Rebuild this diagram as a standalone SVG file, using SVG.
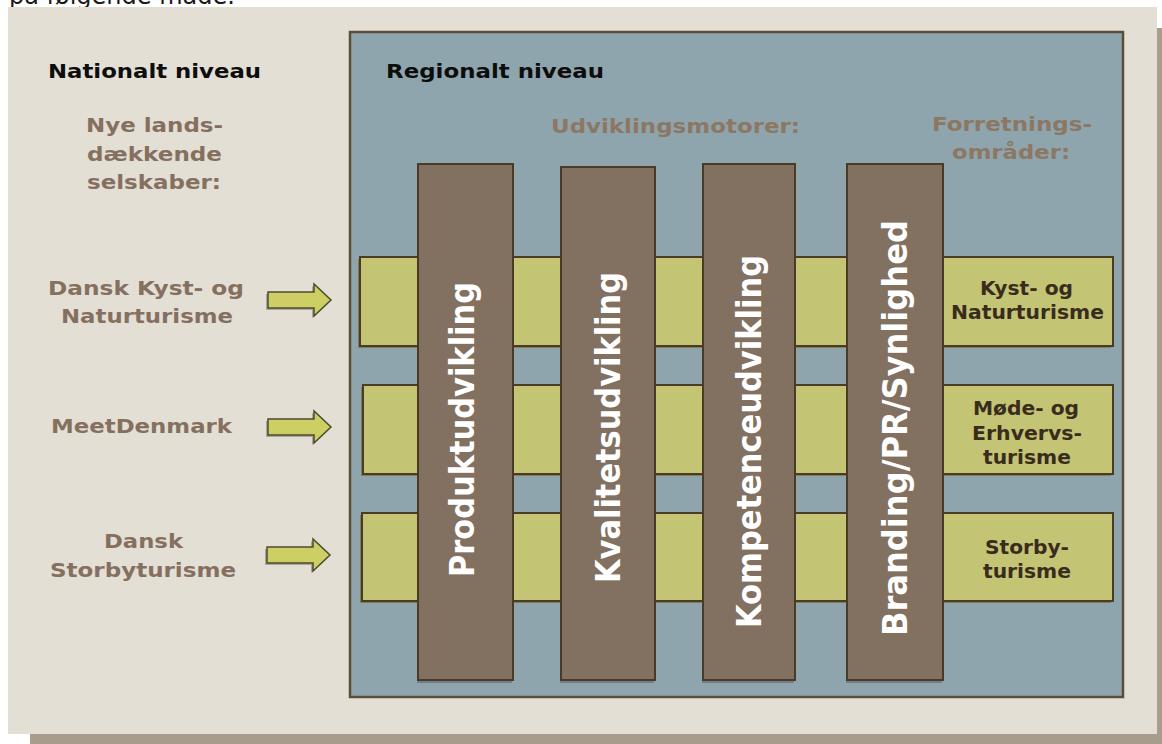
<svg xmlns="http://www.w3.org/2000/svg" xmlns:xlink="http://www.w3.org/1999/xlink" width="1162" height="744" viewBox="0 0 1162 744">
  <defs>
    <style>
      .t { font-family: "DejaVu Sans", Verdana, sans-serif; font-weight: bold; }
      .head { font-size: 20px; fill: #0d0d0d; }
      .nat { font-size: 20px; fill: #857060; }
      .motor { font-size: 20px; fill: #8c7763; }
      .area { font-size: 19px; fill: #3a2c1c; }
      .vert { font-size: 30px; fill: #ffffff; }
      .bar { fill: #827060; stroke: #4a3a26; stroke-width: 2; }
      .barsh { fill: #6f7f85; }
      .band { fill: #c3c474; stroke: #4a3a26; stroke-width: 2; }
      .bandsh { fill: #7e8050; }
      .arrow { fill: #cdce64; stroke: #4b4b30; stroke-width: 1.5; }
      .arrowsh { fill: #a9a597; }
    </style>
    <path id="arrowShape" d="M0,-8 H46 V-16 L63,0 L46,16 V8 H0 Z"/>
  </defs>

  <rect x="0" y="0" width="1162" height="744" fill="#ffffff"/>
  <text x="9" y="4" style="font-family: 'DejaVu Sans', Verdana, sans-serif; font-size: 24px; fill: #1a1a1a;">på følgende måde.</text>

  <g id="frame">
    <rect x="30" y="28" width="1132" height="716" fill="#a89c8c"/>
    <rect x="8" y="7" width="1149" height="727" fill="#e3dfd5"/>
    <rect x="350" y="32" width="773" height="665" fill="#8fa5ae" stroke="#5d4d38" stroke-width="2.5"/>
  </g>

  <g id="headings">
    <text class="t head" x="48" y="78" textLength="213" lengthAdjust="spacingAndGlyphs">Nationalt niveau</text>
    <text class="t head" x="386" y="78" textLength="218" lengthAdjust="spacingAndGlyphs">Regionalt niveau</text>
    <text class="t nat" x="86" y="132" textLength="137" lengthAdjust="spacingAndGlyphs">Nye lands-</text>
    <text class="t nat" x="87" y="161" textLength="135" lengthAdjust="spacingAndGlyphs">dækkende</text>
    <text class="t nat" x="87" y="189" textLength="134" lengthAdjust="spacingAndGlyphs">selskaber:</text>
    <text class="t motor" x="551" y="133" textLength="249" lengthAdjust="spacingAndGlyphs">Udviklingsmotorer:</text>
    <text class="t motor" x="932" y="131" textLength="160" lengthAdjust="spacingAndGlyphs">Forretnings-</text>
    <text class="t motor" x="952" y="159" textLength="118" lengthAdjust="spacingAndGlyphs">områder:</text>
  </g>

  <g id="band-kyst">
    <rect class="bandsh" x="358" y="259" width="753" height="89"/>
    <rect class="band" x="360" y="257" width="753" height="89"/>
  </g>
  <g id="band-moede">
    <rect class="bandsh" x="361" y="387" width="750" height="89"/>
    <rect class="band" x="363" y="385" width="750" height="89"/>
  </g>
  <g id="band-storby">
    <rect class="bandsh" x="360" y="515" width="751" height="88"/>
    <rect class="band" x="362" y="513" width="751" height="88"/>
  </g>

  <g id="bar-produkt">
    <rect class="barsh" x="417" y="167" width="95" height="516"/>
    <rect class="bar" x="418" y="164" width="95" height="516"/>
    <text class="t vert" transform="translate(474,577) scale(1.1,1) rotate(-90)" x="0" y="0" textLength="295" lengthAdjust="spacingAndGlyphs">Produktudvikling</text>
  </g>
  <g id="bar-kvalitet">
    <rect class="barsh" x="560" y="170" width="94" height="513"/>
    <rect class="bar" x="561" y="167" width="94" height="513"/>
    <text class="t vert" transform="translate(620,583) scale(1.1,1) rotate(-90)" x="0" y="0" textLength="311" lengthAdjust="spacingAndGlyphs">Kvalitetsudvikling</text>
  </g>
  <g id="bar-kompetence">
    <rect class="barsh" x="702" y="167" width="92" height="516"/>
    <rect class="bar" x="703" y="164" width="92" height="516"/>
    <text class="t vert" transform="translate(761,628) scale(1.1,1) rotate(-90)" x="0" y="0" textLength="373" lengthAdjust="spacingAndGlyphs">Kompetenceudvikling</text>
  </g>
  <g id="bar-branding">
    <rect class="barsh" x="846" y="167" width="96" height="516"/>
    <rect class="bar" x="847" y="164" width="96" height="516"/>
    <text class="t vert" transform="translate(907,636) scale(1.1,1) rotate(-90)" x="0" y="0" textLength="416" lengthAdjust="spacingAndGlyphs">Branding/PR/Synlighed</text>
  </g>

  <g id="area-kyst">
    <text class="t area" x="980" y="295" textLength="93" lengthAdjust="spacingAndGlyphs">Kyst- og</text>
    <text class="t area" x="951" y="319" textLength="153" lengthAdjust="spacingAndGlyphs">Naturturisme</text>
  </g>
  <g id="area-moede">
    <text class="t area" x="973" y="415" textLength="106" lengthAdjust="spacingAndGlyphs">Møde- og</text>
    <text class="t area" x="972" y="440" textLength="110" lengthAdjust="spacingAndGlyphs">Erhvervs-</text>
    <text class="t area" x="983" y="464" textLength="88" lengthAdjust="spacingAndGlyphs">turisme</text>
  </g>
  <g id="area-storby">
    <text class="t area" x="985" y="554" textLength="84" lengthAdjust="spacingAndGlyphs">Storby-</text>
    <text class="t area" x="983" y="578" textLength="88" lengthAdjust="spacingAndGlyphs">turisme</text>
  </g>

  <g id="nat-kyst">
    <text class="t nat" x="48" y="295" textLength="196" lengthAdjust="spacingAndGlyphs">Dansk Kyst- og</text>
    <text class="t nat" x="61" y="323" textLength="172" lengthAdjust="spacingAndGlyphs">Naturturisme</text>
  </g>
  <g id="nat-meet">
    <text class="t nat" x="51" y="433" textLength="181" lengthAdjust="spacingAndGlyphs">MeetDenmark</text>
  </g>
  <g id="nat-storby">
    <text class="t nat" x="104" y="548" textLength="79" lengthAdjust="spacingAndGlyphs">Dansk</text>
    <text class="t nat" x="50" y="577" textLength="186" lengthAdjust="spacingAndGlyphs">Storbyturisme</text>
  </g>

  <g id="connectors">
    <use href="#arrowShape" class="arrowsh" x="266" y="302"/>
    <use href="#arrowShape" class="arrow" x="268" y="300"/>
    <use href="#arrowShape" class="arrowsh" x="266" y="429"/>
    <use href="#arrowShape" class="arrow" x="268" y="427"/>
    <use href="#arrowShape" class="arrowsh" x="265" y="557"/>
    <use href="#arrowShape" class="arrow" x="267" y="555"/>
  </g>
</svg>
